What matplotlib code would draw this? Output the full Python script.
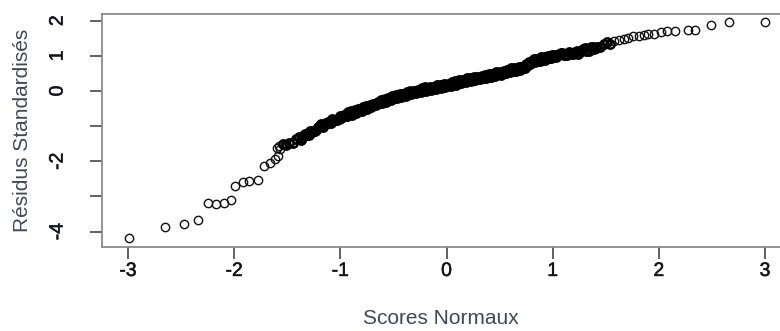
import matplotlib
matplotlib.use("Agg")
import matplotlib.pyplot as plt
import matplotlib.patheffects as pe
import numpy as np

plt.rcParams['font.family'] = ['Liberation Sans', 'DejaVu Sans']

# Lower tail (theoretical quantile, standardized residual)
x_low = [-2.99, -2.65, -2.47, -2.34, -2.25, -2.17, -2.10, -2.03, -1.99, -1.92,
         -1.86, -1.78, -1.72, -1.66, -1.62, -1.59, -1.60, -1.57, -1.58]
y_low = [-4.18, -3.88, -3.78, -3.66, -3.20, -3.23, -3.18, -3.09, -2.71, -2.60,
         -2.57, -2.52, -2.14, -2.05, -1.95, -1.86, -1.62, -1.66, -1.58]

# Dense central body (first set)
x_mid = [-1.54, -1.51, -1.48, -1.45, -1.42, -1.39, -1.36, -1.33, -1.30, -1.27,
         -1.24, -1.21, -1.18, -1.15, -1.12, -1.09, -1.06, -1.03,
         -1.00, -0.98, -0.96, -0.94, -0.92, -0.90, -0.88, -0.86, -0.84, -0.82,
         -0.80, -0.78, -0.76, -0.74, -0.72, -0.70, -0.68, -0.66, -0.64, -0.62,
         -0.60, -0.58, -0.56, -0.54, -0.52, -0.50, -0.48, -0.46, -0.44, -0.42,
         -0.40, -0.38, -0.36, -0.34, -0.32, -0.30, -0.28, -0.26, -0.24, -0.22,
         -0.20, -0.18, -0.16, -0.14, -0.12, -0.10, -0.08, -0.06, -0.04, -0.02,
         0.00, 0.02, 0.04, 0.06, 0.08, 0.10, 0.12, 0.14, 0.16, 0.18,
         0.20, 0.22, 0.24, 0.26, 0.28, 0.30, 0.32, 0.34, 0.36, 0.38,
         0.40, 0.42, 0.44, 0.46, 0.48, 0.50, 0.52, 0.54, 0.56, 0.58,
         0.60, 0.62, 0.64, 0.66, 0.68, 0.70, 0.72, 0.74, 0.76, 0.78,
         0.80, 0.82, 0.84, 0.86, 0.88, 0.90, 0.92, 0.94, 0.96, 0.98, 1.00,
         1.03, 1.06, 1.09, 1.12, 1.15, 1.18, 1.21, 1.24, 1.27, 1.30,
         1.33, 1.36, 1.39, 1.42, 1.45, 1.48, 1.51, 1.54]
y_mid = [-1.51, -1.54, -1.47, -1.49, -1.38, -1.31, -1.34, -1.23, -1.24, -1.16,
         -1.15, -1.03, -0.95, -0.97, -0.87, -0.90, -0.83, -0.83,
         -0.70, -0.75, -0.70, -0.72, -0.63, -0.58, -0.63, -0.55, -0.59, -0.54,
         -0.57, -0.48, -0.42, -0.47, -0.39, -0.43, -0.38, -0.41, -0.31, -0.26,
         -0.31, -0.23, -0.28, -0.23, -0.26, -0.17, -0.12, -0.17, -0.09, -0.14,
         -0.10, -0.13, -0.05, 0.00, -0.06, 0.01, -0.04, 0.00, -0.03, 0.05,
         0.10, 0.04, 0.11, 0.05, 0.09, 0.06, 0.14, 0.18, 0.12, 0.19,
         0.13, 0.18, 0.14, 0.23, 0.28, 0.22, 0.30, 0.24, 0.29, 0.25,
         0.34, 0.38, 0.32, 0.39, 0.33, 0.37, 0.33, 0.41, 0.45, 0.39,
         0.47, 0.41, 0.45, 0.42, 0.51, 0.55, 0.50, 0.58, 0.52, 0.57,
         0.53, 0.61, 0.66, 0.60, 0.68, 0.62, 0.67, 0.65, 0.74, 0.83,
         0.82, 0.90, 0.84, 0.89, 0.85, 0.94, 0.98, 0.93, 1.00, 0.95, 0.99,
         0.96, 1.04, 1.09, 1.03, 1.11, 1.05, 1.10, 1.06, 1.15, 1.21,
         1.16, 1.25, 1.20, 1.26, 1.24, 1.33, 1.39, 1.34]

# Dense central body (second set, interleaved)
x_mid2 = [-1.375, -1.345, -1.315, -1.285, -1.255, -1.225, -1.195, -1.165, -1.135,
          -1.105, -1.075, -1.045, -1.015,
          -0.99, -0.97, -0.95, -0.93, -0.91, -0.89, -0.87, -0.85, -0.83, -0.81,
          -0.79, -0.77, -0.75, -0.73, -0.71, -0.69, -0.67, -0.65, -0.63, -0.61,
          -0.59, -0.57, -0.55, -0.53, -0.51, -0.49, -0.47, -0.45, -0.43, -0.41,
          -0.39, -0.37, -0.35, -0.33, -0.31, -0.29, -0.27, -0.25, -0.23, -0.21,
          -0.19, -0.17, -0.15, -0.13, -0.11, -0.09, -0.07, -0.05, -0.03, -0.01,
          0.01, 0.03, 0.05, 0.07, 0.09, 0.11, 0.13, 0.15, 0.17, 0.19,
          0.21, 0.23, 0.25, 0.27, 0.29, 0.31, 0.33, 0.35, 0.37, 0.39,
          0.41, 0.43, 0.45, 0.47, 0.49, 0.51, 0.53, 0.55, 0.57, 0.59,
          0.61, 0.63, 0.65, 0.67, 0.69, 0.71, 0.73, 0.75, 0.77, 0.79,
          0.81, 0.83, 0.85, 0.87, 0.89, 0.91, 0.93, 0.95, 0.97, 0.99,
          1.015, 1.045, 1.075, 1.105, 1.135, 1.165, 1.195, 1.225, 1.255,
          1.285, 1.315, 1.345, 1.375, 1.405]
y_mid2 = [-1.39, -1.26, -1.25, -1.13, -1.15, -1.12, -1.00, -1.02, -0.90,
          -0.90, -0.80, -0.82, -0.81,
          -0.77, -0.68, -0.70, -0.61, -0.66, -0.67, -0.58, -0.62, -0.52, -0.54,
          -0.46, -0.50, -0.51, -0.42, -0.45, -0.36, -0.38, -0.30, -0.34, -0.35,
          -0.26, -0.30, -0.21, -0.23, -0.15, -0.20, -0.21, -0.12, -0.16, -0.08,
          -0.10, -0.03, -0.08, -0.10, -0.01, -0.06, 0.03, 0.00, 0.08, 0.02,
          0.00, 0.08, 0.04, 0.12, 0.09, 0.16, 0.10, 0.09, 0.17, 0.12,
          0.20, 0.18, 0.25, 0.20, 0.18, 0.27, 0.22, 0.31, 0.29, 0.36,
          0.30, 0.28, 0.36, 0.32, 0.40, 0.37, 0.44, 0.38, 0.36, 0.44,
          0.39, 0.48, 0.45, 0.53, 0.48, 0.46, 0.55, 0.50, 0.59, 0.56,
          0.64, 0.58, 0.57, 0.65, 0.60, 0.69, 0.68, 0.76, 0.73, 0.76,
          0.87, 0.82, 0.91, 0.89, 0.96, 0.91, 0.89, 0.98, 0.93, 1.02,
          1.03, 1.00, 1.08, 1.02, 1.01, 1.09, 1.05, 1.13, 1.11,
          1.19, 1.15, 1.14, 1.24, 1.21]

# Upper tail
x_high = [1.58, 1.62, 1.67, 1.71, 1.76, 1.81, 1.86, 1.90, 1.95, 2.02,
          2.08, 2.15, 2.27, 2.34, 2.49, 2.66, 3.00]
y_high = [1.41, 1.45, 1.48, 1.52, 1.55, 1.57, 1.60, 1.61, 1.63, 1.67,
          1.71, 1.72, 1.74, 1.74, 1.88, 1.96, 1.95]

x_ticks = [-3, -2, -1, 0, 1, 2, 3]
x_ticklabels = ['-3', '-2', '-1', '0', '1', '2', '3']
y_ticks = [-4, -3, -2, -1, 0, 1, 2]
y_ticklabels = ['-4', '', '-2', '', '0', '1', '2']

fig = plt.figure(figsize=(7.8, 3.31), dpi=100)
ax = fig.add_axes([102/780, 1 - 247/331, 1 - 102/780, (247 - 14)/331])

edge = '#000000'
# tails: thin open circles
ax.plot(np.array(x_low + x_high), np.array(y_low + y_high), linestyle='none',
        marker='o', markersize=6.0, markerfacecolor='none',
        markeredgecolor='#111111', markeredgewidth=1.0)
# dense body: heavily overlapping circles
ax.plot(np.array(x_mid + x_mid2), np.array(y_mid + y_mid2), linestyle='none',
        marker='o', markersize=6.0, markerfacecolor='none',
        markeredgecolor=edge, markeredgewidth=1.8)

ax.set_xlim(-3.245, 3.141)
ax.set_ylim(-4.44, 2.19)

spine_col = '#8a8a8a'
for s in ['left', 'top', 'bottom']:
    ax.spines[s].set_color(spine_col)
    ax.spines[s].set_linewidth(1.3)
ax.spines['right'].set_visible(False)

ax.set_xticks(x_ticks)
ax.set_xticklabels(x_ticklabels)
ax.set_yticks(y_ticks)
ax.set_yticklabels(y_ticklabels, rotation=90, va='center')

ax.tick_params(axis='both', direction='out', length=8.5, width=1.3,
               color='#555555', labelsize=14, labelcolor='#14141e')
ax.tick_params(axis='x', pad=3)
ax.tick_params(axis='y', pad=17)

for lab in ax.get_xticklabels() + ax.get_yticklabels():
    lab.set_path_effects([pe.withStroke(linewidth=0.35, foreground='#14141e')])

ax.set_xlabel('Scores Normaux', fontsize=15, color='#3e4858', labelpad=21)
ax.set_ylabel('Résidus Standardisés', fontsize=15, color='#3e4858', labelpad=13)

fig.savefig('out.png', dpi=100)
